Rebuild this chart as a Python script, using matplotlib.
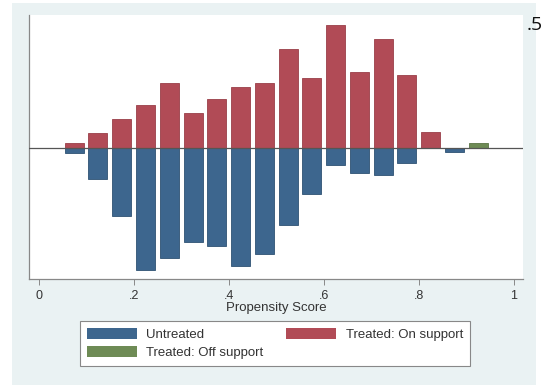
import matplotlib
matplotlib.use("Agg")
import matplotlib.pyplot as plt
from matplotlib.patches import Patch, Rectangle
import numpy as np

# ---- data ----
bin_centers = [0.075, 0.125, 0.175, 0.225, 0.275, 0.325, 0.375, 0.425, 0.475,
               0.525, 0.575, 0.625, 0.675, 0.725, 0.775, 0.825, 0.875, 0.925]
treated_on = [4.7, 14.7, 28.7, 43, 64.7, 34.7, 49, 60.7, 64.7,
              99.3, 70, 123.3, 76.3, 108.7, 72.7, 16.3, 0, 0]
untreated = [5.3, 31.3, 67.7, 122, 110.3, 93.7, 98, 118, 105.7,
             77.3, 46, 17.3, 25, 27, 15.3, 0, 4, 0]
treated_off = [0, 0, 0, 0, 0, 0, 0, 0, 0,
               0, 0, 0, 0, 0, 0, 0, 0, 5.3]
xticks = [0, 0.2, 0.4, 0.6, 0.8, 1.0]
xticklabels = ["0", ".2", ".4", ".6", ".8", "1"]
labels = ["Untreated", "Treated: On support", "Treated: Off support"]

W, H = 557, 385
fig = plt.figure(figsize=(W / 100, H / 100), dpi=100)
fig.patch.set_facecolor("white")

# outer light panel
fig.patches.append(Rectangle((12 / W, 0), (536 - 12) / W, 1 - 3 / H,
                             transform=fig.transFigure, facecolor="#EAF2F3",
                             edgecolor="none", zorder=-5))

ax = fig.add_axes([29 / W, 1 - 279 / H, (523 - 29) / W, (279 - 15) / H])
ax.set_zorder(1)
ax.set_facecolor("white")

c_blue = "#3D668E"
c_red = "#B14B56"
c_green = "#6E8B55"
bw = 0.04

ax.bar(bin_centers, treated_on, width=bw, color=c_red, edgecolor="#9A3F48", linewidth=0.6, zorder=2)
ax.bar(bin_centers, [-v for v in untreated], width=bw, color=c_blue, edgecolor="#2F5273", linewidth=0.6, zorder=2)
ax.bar(bin_centers, treated_off, width=bw, color=c_green, edgecolor="#5A7445", linewidth=0.6, zorder=2)

ax.axhline(0, color="#555555", linewidth=0.9, zorder=3)

ax.set_xlim(-0.02, 1.019)
ax.set_ylim(-131, 133)

for s in ["top", "right"]:
    ax.spines[s].set_visible(False)
for s in ["left", "bottom"]:
    ax.spines[s].set_color("#888888")
    ax.spines[s].set_linewidth(0.9)

ax.set_yticks([])
ax.set_xticks(xticks)
ax.set_xticklabels(xticklabels, fontsize=9, color="#333333", family="Liberation Sans")
ax.tick_params(axis="x", length=4, width=0.7, color="#888888", pad=4)
ax.set_xlabel("Propensity Score", fontsize=9.5, color="#333333", family="Liberation Sans", labelpad=0)

handles = [Patch(facecolor=c_blue, edgecolor="none"),
           Patch(facecolor=c_green, edgecolor="none"),
           Patch(facecolor=c_red, edgecolor="none")]
leg_labels = [labels[0], labels[2], labels[1]]
leg = fig.legend(handles, leg_labels, ncol=2, loc="upper left",
                 bbox_to_anchor=(80 / W, 1 - 321 / H),
                 frameon=True, fancybox=False, framealpha=1,
                 prop={"family": "Liberation Sans", "size": 9.5},
                 handlelength=3.8, handleheight=0.95, handletextpad=0.7,
                 labelspacing=0.4, borderpad=0.5, columnspacing=1.75,
                 borderaxespad=0)
leg.get_frame().set_edgecolor("#888888")
leg.get_frame().set_facecolor("white")
leg.get_frame().set_linewidth(0.8)
for t in leg.get_texts():
    t.set_color("#333333")

fig.text(527 / W, 1 - 25 / H, ".5", fontsize=14, family="Open Sans",
         color="#111111", ha="left", va="center")

fig.savefig("out.png", dpi=100, facecolor=fig.get_facecolor())
